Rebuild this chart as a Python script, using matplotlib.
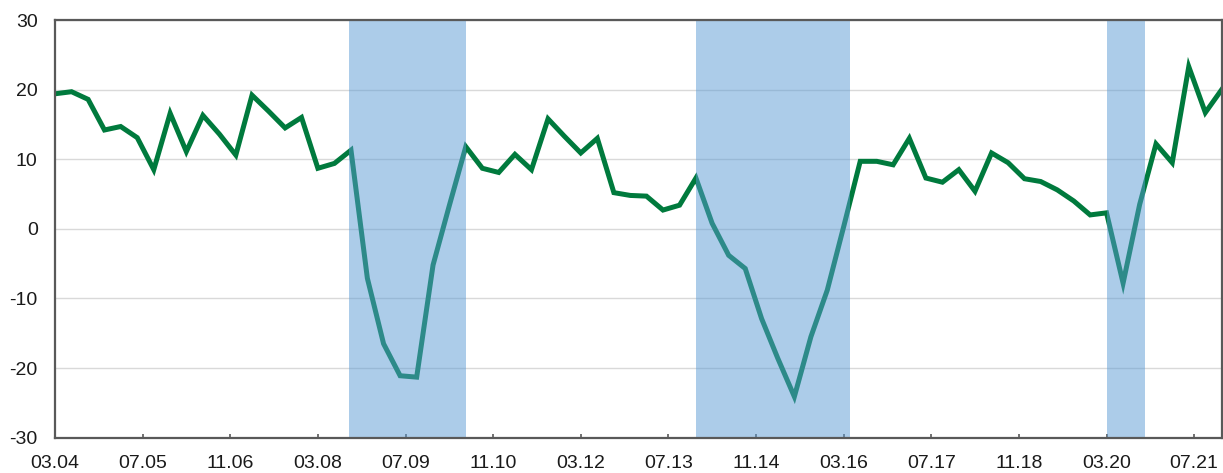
import datetime

import numpy as np
import pandas as pd
import matplotlib
matplotlib.use('Agg')
import matplotlib.pyplot as plt
import matplotlib.dates as mdates

# quarterly series, Mar 2004 .. Dec 2021
start = '2004-03-01'
values = [19.4, 19.7, 18.6, 14.2, 14.7, 13.1, 8.5, 16.6, 11.1, 16.3, 13.6, 10.6,
          19.2, 16.9, 14.5, 16.0, 8.7, 9.4, 11.3, -7.1, -16.5, -21.1, -21.3, -5.2,
          3.3, 11.8, 8.7, 8.1, 10.7, 8.5, 15.8, 13.3, 10.9, 13.0, 5.2, 4.8,
          4.7, 2.7, 3.4, 7.3, 0.8, -3.8, -5.7, -12.9, -18.6, -24.1, -15.5, -8.8,
          0.3, 9.7, 9.7, 9.2, 13.0, 7.3, 6.7, 8.5, 5.4, 10.9, 9.5, 7.2,
          6.8, 5.6, 4.0, 2.0, 2.3, -7.8, 3.5, 12.2, 9.5, 23.3, 16.7, 20.0]

# shaded periods
shade_start = ['2008-08-20', '2013-12-01', '2020-03-01']
shade_end = ['2010-06-01', '2016-04-07', '2020-10-01']

tick_labels = ['03.04', '07.05', '11.06', '03.08', '07.09', '11.10', '03.12',
               '07.13', '11.14', '03.16', '07.17', '11.18', '03.20', '07.21']
y_ticks = [-30, -20, -10, 0, 10, 20, 30]

plt.rcParams['font.family'] = ['Liberation Sans', 'DejaVu Sans']
plt.rcParams['axes.unicode_minus'] = False

dates = pd.date_range(start, periods=len(values), freq='3MS')
tick_dates = [datetime.datetime.strptime(t, '%m.%y') for t in tick_labels]

fig = plt.figure(figsize=(12.23, 4.73), dpi=100)
ax = fig.add_axes([55 / 1223, 1 - 437.7 / 473, (1221.7 - 55) / 1223, (437.7 - 20) / 473])

ax.plot(dates, values, color='#007A3D', linewidth=3.6, solid_joinstyle='miter', zorder=2)
for s, e in zip(shade_start, shade_end):
    ax.axvspan(pd.Timestamp(s), pd.Timestamp(e), color='#5B9BD5', alpha=0.5, lw=0, zorder=3)

ax.set_xlim(dates[0], dates[-1])
ax.set_ylim(-30, 30)
ax.set_yticks(y_ticks)
ax.set_xticks(tick_dates)
ax.set_xticklabels(tick_labels)
ax.yaxis.grid(True, color='#D9D9D9', linewidth=1.0, zorder=1)
ax.set_axisbelow(True)

for sp in ax.spines.values():
    sp.set_color('#595959')
    sp.set_linewidth(1.6)
    sp.set_zorder(4)

ax.tick_params(axis='y', length=0, pad=12.5, labelsize=14, labelcolor='#1a1a1a')
ax.tick_params(axis='x', direction='in', length=3, width=1.2, color='#595959',
               pad=12.5, labelsize=14, labelcolor='#1a1a1a')

fig.savefig('out.png', dpi=100, facecolor='white')
